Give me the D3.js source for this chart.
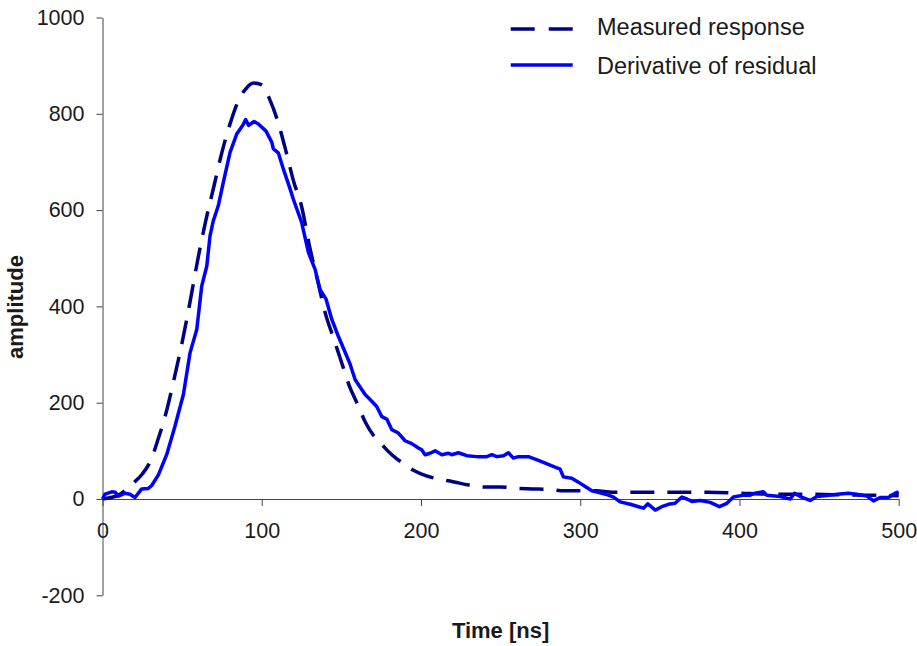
<!DOCTYPE html>
<html><head><meta charset="utf-8">
<script src="https://cdn.jsdelivr.net/npm/d3@7"></script>
<style>body{margin:0;background:#fff} svg{display:block}</style>
</head><body>
<svg id="chart" width="917" height="646"></svg>
<script>
// ---- data ----
const measuredT = [0,5,10,15,20,25,30,35,40,45,50,55,60,65,70,75,80,85,90,95,100,105,110,115,120,125,130,135,140,145,150,155,160,165,170,175,180,185,190,195,200,210,220,230,240,250,260,270,280,290,300,310,320,340,360,380,400,420,440,460,480,500];
const measuredA = [0,3,8,20,35,52,78,125,180,250,325,410,500,580,650,720,778,825,852,864,860,830,785,725,660,608,525,455,385,335,285,235,198,160,133,115,97,83,72,60,52,42,36,29,25,25,22,21,20,17,17,17,14,14,14,14,12,10,10,9,8,7];

const derivT = [0,1.6,5.8,7.9,10,14.1,17.3,20.4,24.6,28.8,30.9,35.1,40.3,45.5,50.8,55,59.2,62.3,65.5,67.5,69.6,72.7,75.9,80.1,84.3,88.1,89.9,91.8,95.2,97.9,102.7,106.3,107.3,110.4,113.6,117.8,119.8,125.1,129.3,133.5,136.6,140.4,144,148.1,151.7,155.5,158.6,164.9,169.1,172.2,175.4,178.5,181.7,185.8,190,194.2,198.4,200.5,202.6,205.7,208.9,213.1,217.2,219.3,223.5,228.8,235.1,241.3,244.5,247.6,251.8,254.9,258,261.2,267.5,271.7,276.9,282.2,287.4,289.4,294.7,298.9,303.1,307.3,312.5,317.7,320.9,325.1,331.4,336.6,339.7,342.5,347.1,351.2,355.4,359.6,363.8,367,370.1,375.3,381.6,387.4,392.1,396.2,402.5,406.7,409.8,415,417.2,425.6,431.9,434.6,438.1,444.4,448.6,454.9,461.2,468.5,473.7,480,484.2,488.4,493.6,497.8,500];
const derivA = [0,10,15,14,6,12,10,3,21,22,28,50,92,151,217,304,352,442,484,546,578,609,658,720,758,776,788,776,784,779,764,741,727,719,685,644,623,574,512,477,435,415,373,338,310,280,248,217,203,192,171,166,144,137,121,115,106,102,92,95,100,92,95,92,96,90,88,88,92,88,90,96,85,88,88,83,76,69,62,46,43,35,26,17,13,8,4,-6,-11,-16,-19,-10,-23,-16,-11,-9,4,0,-5,-3,-7,-16,-9,4,8,8,12,15,8,5,0,12,5,-3,5,7,10,12,10,6,-4,3,3,12,15];

const xTicks = [0,100,200,300,400,500];
const yTicks = [-200,0,200,400,600,800,1000];
const seriesNames = ["Measured response","Derivative of residual"];
const xTitle = "Time [ns]";
const yTitle = "amplitude";

// ---- drawing ----
const FONT = "'Liberation Sans', Arial, Helvetica, sans-serif";
const svg = d3.select("#chart");
const x = d3.scaleLinear().domain([0,500]).range([102.5,898.7]);
const y = d3.scaleLinear().domain([-200,1000]).range([595.3,17.5]);
const fmt = d => String(d); // plain hyphen-minus like the reference

const axisColor = "#444";

// y axis
const gy = svg.append("g").attr("transform","translate(" + x(0) + ",0)")
  .call(d3.axisLeft(y).tickValues(yTicks).tickSize(6).tickPadding(12).tickSizeOuter(0).tickFormat(fmt));
gy.selectAll("path,line").attr("stroke",axisColor).attr("stroke-width",1);
gy.selectAll("text").attr("font-family",FONT).attr("font-size",21.5).attr("fill","#1a1a1a");

// x axis at y = 0
const gx = svg.append("g").attr("transform","translate(0," + y(0) + ")")
  .call(d3.axisBottom(x).tickValues(xTicks).tickSize(7).tickPadding(17).tickSizeOuter(0).tickFormat(fmt));
gx.selectAll("path,line").attr("stroke",axisColor).attr("stroke-width",1);
gx.selectAll("text").attr("font-family",FONT).attr("font-size",21.5).attr("fill","#1a1a1a");

// axis titles
svg.append("text").attr("x",(x(0)+x(500))/2).attr("y",638)
  .attr("text-anchor","middle").attr("font-family",FONT).attr("font-size",22)
  .attr("font-weight","bold").attr("fill","#1a1a1a").text(xTitle);
svg.append("text").attr("transform","translate(23,307) rotate(-90)")
  .attr("text-anchor","middle").attr("font-family",FONT).attr("font-size",22)
  .attr("font-weight","bold").attr("fill","#1a1a1a").text(yTitle);

// series
const measured = measuredT.map((t,i)=>[t,measuredA[i]]);
const deriv = derivT.map((t,i)=>[t,derivA[i]]);

const smoothLine = d3.line().x(d=>x(d[0])).y(d=>y(d[1])).curve(d3.curveMonotoneX);
const straightLine = d3.line().x(d=>x(d[0])).y(d=>y(d[1]));

svg.append("path").datum(measured).attr("d",smoothLine)
  .attr("fill","none").attr("stroke","#000080").attr("stroke-width",3.5)
  .attr("stroke-dasharray","24,13");
svg.append("path").datum(deriv).attr("d",straightLine)
  .attr("fill","none").attr("stroke","#0000ff").attr("stroke-width",3.5)
  .attr("stroke-linejoin","round");

// legend
const legend = svg.append("g");
const legendItems = [
  {name: seriesNames[0], color:"#000080", dash:"24,14", ly:29, ty:35},
  {name: seriesNames[1], color:"#0000ff", dash:null, ly:65, ty:74}
];
legendItems.forEach(it=>{
  const ln = legend.append("line").attr("x1",510.7).attr("x2",572.7)
    .attr("y1",it.ly).attr("y2",it.ly).attr("stroke",it.color).attr("stroke-width",3.5);
  if (it.dash) ln.attr("stroke-dasharray",it.dash);
  legend.append("text").attr("x",597).attr("y",it.ty)
    .attr("font-family",FONT).attr("font-size",23.5).attr("fill","#1a1a1a").text(it.name);
});
</script>
</body></html>
